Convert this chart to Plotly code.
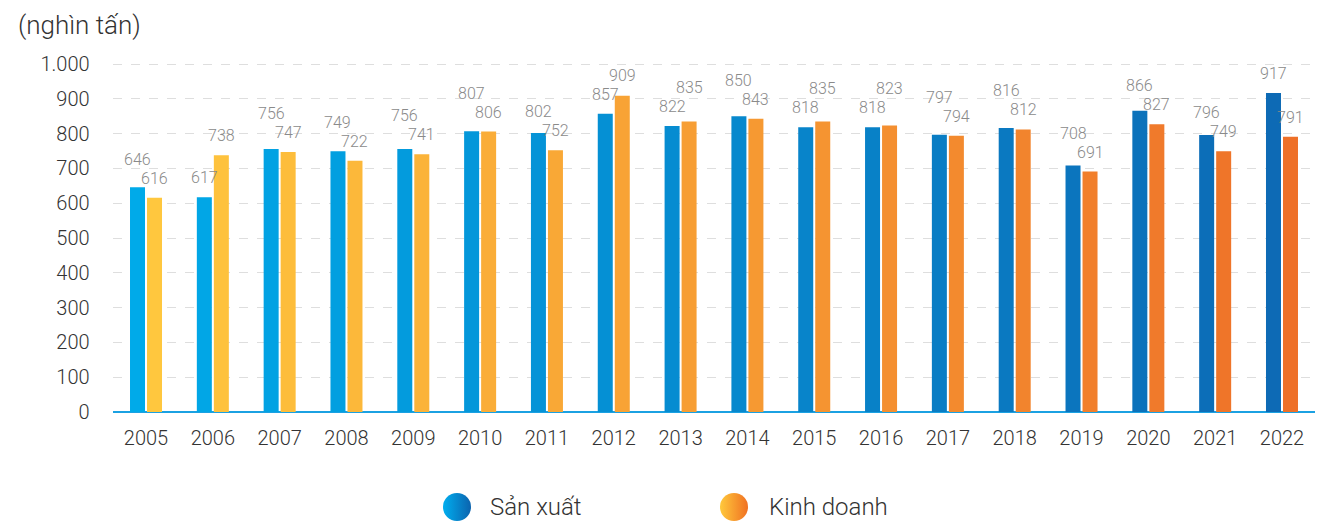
import plotly.graph_objects as go

years = ["2005", "2006", "2007", "2008", "2009", "2010", "2011", "2012", "2013",
         "2014", "2015", "2016", "2017", "2018", "2019", "2020", "2021", "2022"]
san_xuat = [646, 617, 756, 749, 756, 807, 802, 857, 822, 850, 818, 818, 797, 816, 708, 866, 796, 917]
kinh_doanh = [616, 738, 747, 722, 741, 806, 752, 909, 835, 843, 835, 823, 794, 812, 691, 827, 749, 791]
y_ticks = [0, 100, 200, 300, 400, 500, 600, 700, 800, 900, 1000]
y_tick_text = ["0", "100", "200", "300", "400", "500", "600", "700", "800", "900", "1.000"]

W, H = 1319, 522
FONT = "Roboto, 'Open Sans', sans-serif"
WEIGHT = 300

def lerp_colors(c0, c1, n):
    out = []
    for i in range(n):
        t = i / (n - 1)
        r = round(c0[0] + (c1[0] - c0[0]) * t)
        g = round(c0[1] + (c1[1] - c0[1]) * t)
        b = round(c0[2] + (c1[2] - c0[2]) * t)
        out.append(f"rgb({r},{g},{b})")
    return out

blue_cols = lerp_colors((0, 170, 233), (13, 106, 181), len(years))
orange_cols = lerp_colors((255, 199, 62), (238, 112, 40), len(years))

# plot area geometry (pixels)
x_left, x_right = 112.6, 1315.4
y_zero, y_top = 412.0, 46.6
y_max = 1050
px_per_unit = (y_zero - y_top) / y_max

fig = go.Figure()
fig.add_trace(go.Bar(x=years, y=san_xuat, name="Sản xuất", marker=dict(color=blue_cols, line=dict(width=0)),
                     showlegend=False, hoverinfo="x+y"))
fig.add_trace(go.Bar(x=years, y=kinh_doanh, name="Kinh doanh", marker=dict(color=orange_cols, line=dict(width=0)),
                     showlegend=False, hoverinfo="x+y"))

# value labels, stacked to avoid overlaps
gap, push = 8, 19
slot_half = 8.5
annotations = []
for i, (b, o) in enumerate(zip(san_xuat, kinh_doanh)):
    sb, so = gap, gap
    bb = b * px_per_unit + gap
    bo = o * px_per_unit + gap
    if b >= o:
        if bb - bo < push:
            sb = bo + push - b * px_per_unit
    else:
        if bo - bb < push:
            so = bb + push - o * px_per_unit
    for val, xs, ys in ((b, -slot_half, sb), (o, slot_half, so)):
        annotations.append(dict(x=i, y=val, xref="x", yref="y", text=str(val), showarrow=False,
                                xanchor="center", yanchor="bottom", xshift=xs, yshift=ys,
                                font=dict(family=FONT, size=16, color="#8a8a8a", weight=WEIGHT)))

# unit title
annotations.append(dict(x=16 / W, y=1 - 8 / H, xref="paper", yref="paper", text="(nghìn tấn)",
                        showarrow=False, xanchor="left", yanchor="top",
                        font=dict(family=FONT, size=26, color="#333333", weight=WEIGHT)))

# legend (manual, gradient circles)
leg_items = [("Sản xuất", (0, 174, 239), (11, 99, 174), 457, 488),
             ("Kinh doanh", (255, 201, 60), (240, 113, 34), 734, 767)]
for name, c0, c1, cx, tx in leg_items:
    fig.add_trace(go.Scatter(x=[cx], y=[507], xaxis="x2", yaxis="y2", mode="markers",
                             marker=dict(size=28, color=f"rgb{c0}", symbol="circle",
                                         gradient=dict(type="horizontal", color=f"rgb{c1}"),
                                         line=dict(width=0)),
                             showlegend=False, hoverinfo="skip"))
    annotations.append(dict(x=tx / W, y=1 - 507 / H, xref="paper", yref="paper", text=name,
                            showarrow=False, xanchor="left", yanchor="middle",
                            font=dict(family=FONT, size=24, color="#333333", weight=WEIGHT)))

fig.update_layout(
    width=W, height=H,
    margin=dict(l=0, r=0, t=0, b=0),
    paper_bgcolor="white", plot_bgcolor="rgba(0,0,0,0)",
    barmode="group", bargap=0.491, bargroupgap=0.118,
    showlegend=False,
    font=dict(family=FONT, color="#333333", weight=WEIGHT),
    xaxis=dict(domain=[x_left / W, x_right / W], type="category", range=[-0.5, 17.5],
               showgrid=False, showline=False, zeroline=False, ticks="",
               tickfont=dict(family=FONT, size=20, color="#333333", weight=WEIGHT), ticklabelstandoff=12,
               automargin=False, fixedrange=True),
    yaxis=dict(domain=[1 - y_zero / H, 1 - y_top / H], range=[0, y_max],
               tickvals=y_ticks, ticktext=y_tick_text,
               showgrid=True, gridcolor="#dedede", griddash="dash", gridwidth=1,
               zeroline=True, zerolinecolor="#1ba1e2", zerolinewidth=2,
               showline=False, ticks="", ticklabelstandoff=22,
               tickfont=dict(family=FONT, size=20, color="#333333", weight=WEIGHT),
               automargin=False, fixedrange=True),
    xaxis2=dict(domain=[0, 1], range=[0, W], visible=False, anchor="y2", fixedrange=True),
    yaxis2=dict(domain=[0, 1], range=[H, 0], visible=False, anchor="x2", fixedrange=True),
    annotations=annotations,
)

fig.write_html("out.html", config={"displayModeBar": False},
               post_script="document.body.style.margin='0';document.body.style.overflow='hidden';")
